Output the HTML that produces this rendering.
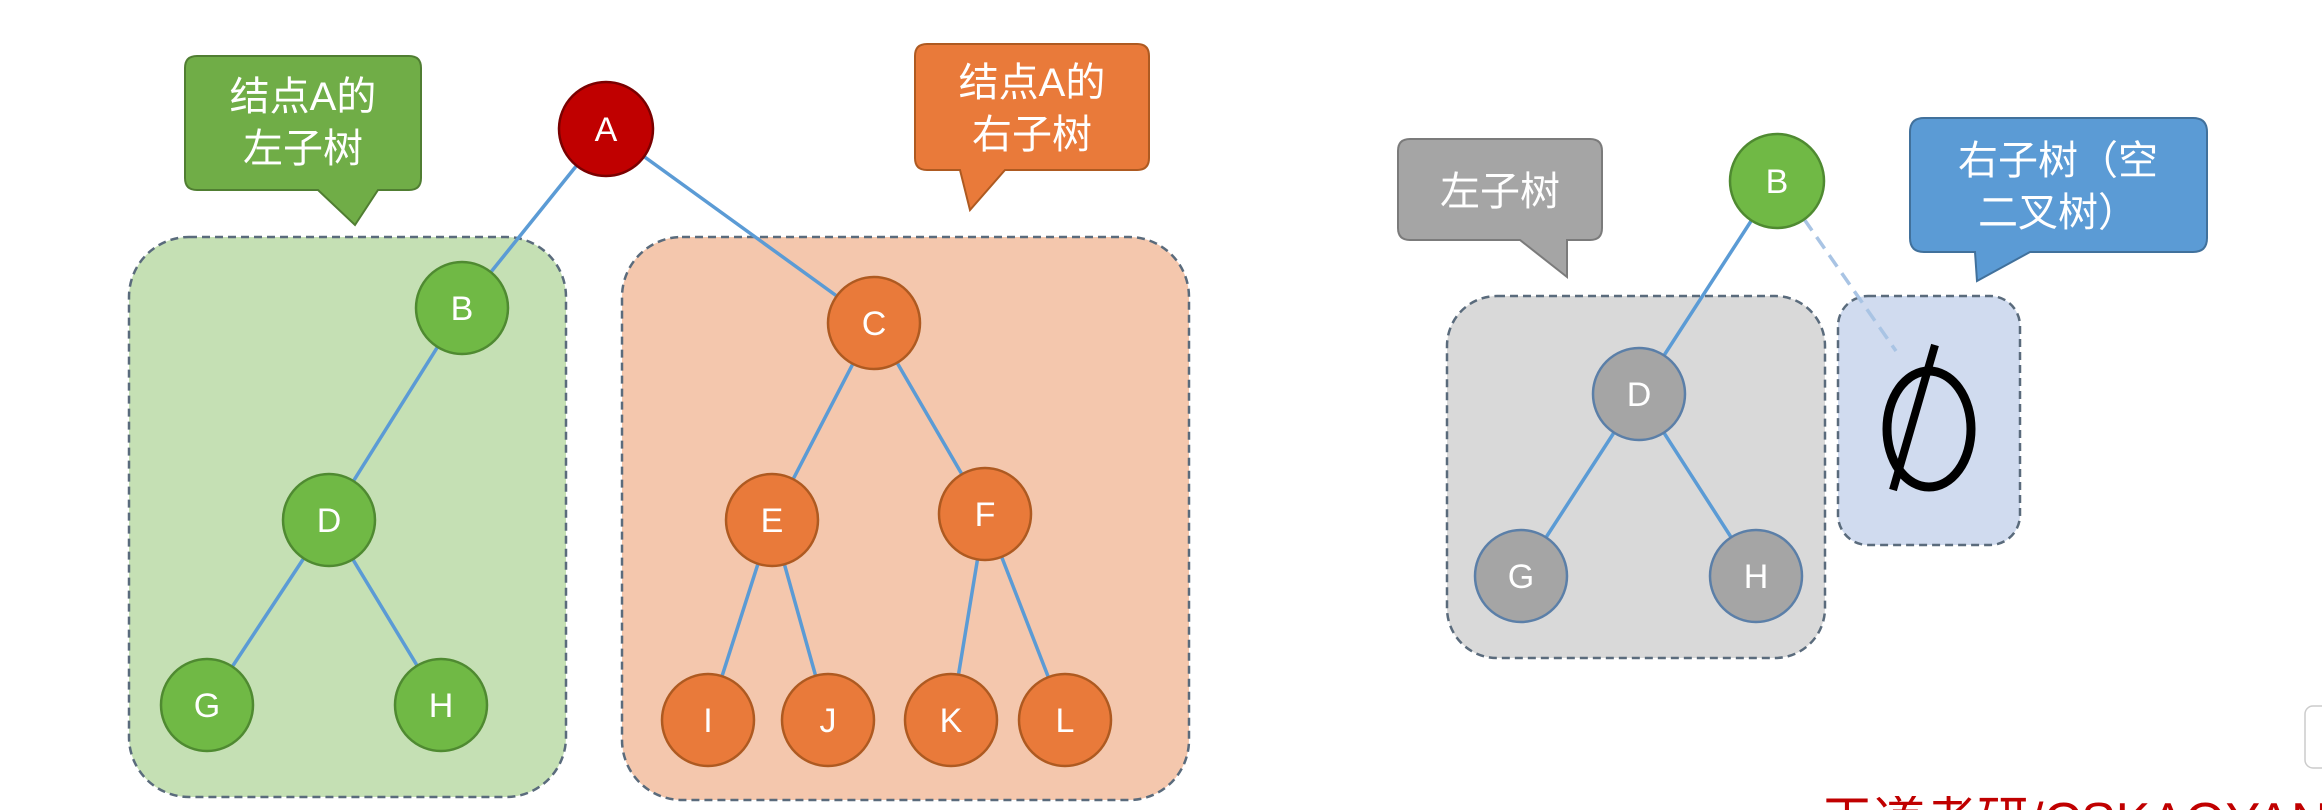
<!DOCTYPE html>
<html><head><meta charset="utf-8"><style>
html,body{margin:0;padding:0;background:#fff;width:2322px;height:810px;overflow:hidden;position:relative}
svg{display:block}
text,.ft{font-family:"Liberation Sans","Noto Sans CJK SC",sans-serif}
.fw{position:absolute;left:1821px;top:796px;width:501px;height:14px;overflow:hidden}
.ft{position:absolute;left:0;top:0;font-size:52px;line-height:52px;color:#c00000;white-space:nowrap}
</style></head><body>
<svg width="2322" height="810" viewBox="0 0 2322 810" xmlns="http://www.w3.org/2000/svg">
<rect x="129" y="237" width="437" height="560" rx="60" fill="#c5e0b4" stroke="#5a6b7c" stroke-width="2.5" stroke-dasharray="8,5"/>
<rect x="622" y="237" width="567" height="563" rx="60" fill="#f4c7ad" stroke="#5a6b7c" stroke-width="2.5" stroke-dasharray="8,5"/>
<path d="M197,56 H409 Q421,56 421,68 V178 Q421,190 409,190 H378 L355,225 L318,190 H197 Q185,190 185,178 V68 Q185,56 197,56 Z" fill="#70ad47" stroke="#507e32" stroke-width="2"/>
<text x="303" y="110" font-size="40" fill="#fff" text-anchor="middle">结点A的</text>
<text x="303" y="162" font-size="40" fill="#fff" text-anchor="middle">左子树</text>
<path d="M927,44 H1137 Q1149,44 1149,56 V158 Q1149,170 1137,170 H1005 L970,210 L960,170 H927 Q915,170 915,158 V56 Q915,44 927,44 Z" fill="#e97a3a" stroke="#ae5a21" stroke-width="2"/>
<text x="1032" y="96" font-size="40" fill="#fff" text-anchor="middle">结点A的</text>
<text x="1032" y="148" font-size="40" fill="#fff" text-anchor="middle">右子树</text>
<g stroke="#5b9bd5" stroke-width="3.5">
<line x1="606" y1="129" x2="462" y2="308"/>
<line x1="606" y1="129" x2="874" y2="323"/>
<line x1="462" y1="308" x2="329" y2="520"/>
<line x1="329" y1="520" x2="207" y2="705"/>
<line x1="329" y1="520" x2="441" y2="705"/>
<line x1="874" y1="323" x2="772" y2="520"/>
<line x1="874" y1="323" x2="985" y2="514"/>
<line x1="772" y1="520" x2="708" y2="720"/>
<line x1="772" y1="520" x2="828" y2="720"/>
<line x1="985" y1="514" x2="951" y2="720"/>
<line x1="985" y1="514" x2="1065" y2="720"/>
</g>
<g stroke-width="2.5">
<circle cx="606" cy="129" r="47" fill="#c00000" stroke="#7a0000"/>
<circle cx="462" cy="308" r="46" fill="#70b945" stroke="#4f8a31"/>
<circle cx="329" cy="520" r="46" fill="#70b945" stroke="#4f8a31"/>
<circle cx="207" cy="705" r="46" fill="#70b945" stroke="#4f8a31"/>
<circle cx="441" cy="705" r="46" fill="#70b945" stroke="#4f8a31"/>
<circle cx="874" cy="323" r="46" fill="#e97a3a" stroke="#ae5a21"/>
<circle cx="772" cy="520" r="46" fill="#e97a3a" stroke="#ae5a21"/>
<circle cx="985" cy="514" r="46" fill="#e97a3a" stroke="#ae5a21"/>
<circle cx="708" cy="720" r="46" fill="#e97a3a" stroke="#ae5a21"/>
<circle cx="828" cy="720" r="46" fill="#e97a3a" stroke="#ae5a21"/>
<circle cx="951" cy="720" r="46" fill="#e97a3a" stroke="#ae5a21"/>
<circle cx="1065" cy="720" r="46" fill="#e97a3a" stroke="#ae5a21"/>
</g>
<g font-size="34" fill="#fff" text-anchor="middle">
<text x="606" y="141">A</text><text x="462" y="320">B</text><text x="329" y="532">D</text>
<text x="207" y="717">G</text><text x="441" y="717">H</text><text x="874" y="335">C</text>
<text x="772" y="532">E</text><text x="985" y="526">F</text><text x="708" y="732">I</text>
<text x="828" y="732">J</text><text x="951" y="732">K</text><text x="1065" y="732">L</text>
</g>
<rect x="1447" y="296" width="378" height="362" rx="50" fill="#d9d9d9" stroke="#5a6b7c" stroke-width="2.5" stroke-dasharray="8,5"/>
<rect x="1838" y="296" width="182" height="249" rx="30" fill="#d0dbef" stroke="#5a6b7c" stroke-width="2.5" stroke-dasharray="8,5"/>
<path d="M1410,139 H1590 Q1602,139 1602,151 V228 Q1602,240 1590,240 H1567 V277 L1520,240 H1410 Q1398,240 1398,228 V151 Q1398,139 1410,139 Z" fill="#a5a5a5" stroke="#7b7b7b" stroke-width="2"/>
<text x="1500" y="205" font-size="40" fill="#fff" text-anchor="middle">左子树</text>
<path d="M1924,118 H2193 Q2207,118 2207,132 V238 Q2207,252 2193,252 H2030 L1977,281 L1975,252 H1924 Q1910,252 1910,238 V132 Q1910,118 1924,118 Z" fill="#5b9bd5" stroke="#41719c" stroke-width="2"/>
<text x="2058" y="174" font-size="40" fill="#fff" text-anchor="middle">右子树（空</text>
<text x="2058" y="226" font-size="40" fill="#fff" text-anchor="middle">二叉树）</text>
<line x1="1804" y1="219" x2="1896" y2="351" stroke="#a9c4e4" stroke-width="3.5" stroke-dasharray="14,8"/>
<g stroke="#5b9bd5" stroke-width="3.5">
<line x1="1777" y1="181" x2="1639" y2="394"/>
<line x1="1639" y1="394" x2="1521" y2="576"/>
<line x1="1639" y1="394" x2="1756" y2="576"/>
</g>
<g stroke-width="2.5">
<circle cx="1777" cy="181" r="47" fill="#70b945" stroke="#4f8a31"/>
<circle cx="1639" cy="394" r="46" fill="#a5a5a5" stroke="#5b7fa8"/>
<circle cx="1521" cy="576" r="46" fill="#a5a5a5" stroke="#5b7fa8"/>
<circle cx="1756" cy="576" r="46" fill="#a5a5a5" stroke="#5b7fa8"/>
</g>
<g font-size="34" fill="#fff" text-anchor="middle">
<text x="1777" y="193">B</text><text x="1639" y="406">D</text><text x="1521" y="588">G</text><text x="1756" y="588">H</text>
</g>
<ellipse cx="1929" cy="429" rx="42" ry="58" fill="none" stroke="#000" stroke-width="9"/>
<line x1="1935" y1="345" x2="1893" y2="490" stroke="#000" stroke-width="8"/>
<rect x="2305" y="706" width="30" height="62" rx="8" fill="#fff" stroke="#ccc" stroke-width="1.5"/>
</svg>
<div class="fw"><div class="ft">王道考研/CSKAOYAN.COM</div></div>
</body></html>
